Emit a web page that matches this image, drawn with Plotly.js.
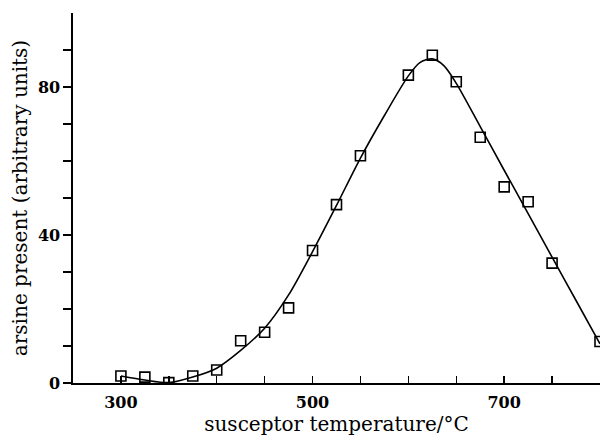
<!DOCTYPE html>
<html>
<head>
<meta charset="utf-8">
<script src="https://cdn.plot.ly/plotly-3.0.1.min.js"></script>
<style>html,body{margin:0;padding:0;background:#fff;}#chart{width:600px;height:439px;}</style>
</head>
<body>
<div id="chart"></div>
<script>
// measured points
const tempPoints = [300, 325, 350, 375, 400, 425, 450, 475, 500, 525, 550, 600, 625, 650, 675, 700, 725, 750, 800];
const arsinePoints = [1.9, 1.6, 0.1, 1.9, 3.5, 11.4, 13.7, 20.3, 35.8, 48.2, 61.4, 83.2, 88.6, 81.4, 66.4, 53.0, 49.0, 32.4, 11.2];

// fitted curve
const tempCurve = [300, 325, 350, 375, 400, 425, 450, 475, 500, 525, 550, 575, 600, 612, 625, 637, 650, 675, 700, 725, 750, 775, 800];
const arsineCurve = [1.9, 0.8, 0.1, 1.6, 4.0, 8.8, 14.8, 23.8, 35.5, 48.0, 60.8, 72.3, 83.0, 86.6, 87.6, 85.8, 81.0, 69.3, 57.5, 45.8, 34.0, 22.3, 10.6];

// ticks
const xTickVals = [300, 350, 400, 450, 500, 550, 600, 650, 700, 750];
const xTickText = ['300', '', '', '', '500', '', '', '', '700', ''];
const yTickVals = [0, 10, 20, 30, 40, 50, 60, 70, 80, 90];
const yTickText = ['0', '', '', '', '40', '', '', '', '80', ''];

const serif = '"DejaVu Serif", "Liberation Serif", serif';

const traces = [
  {
    x: tempCurve, y: arsineCurve, type: 'scatter', mode: 'lines',
    line: {color: '#000', width: 1.6, shape: 'spline', smoothing: 0.8},
    hoverinfo: 'skip', showlegend: false
  },
  {
    x: tempPoints, y: arsinePoints, type: 'scatter', mode: 'markers',
    marker: {symbol: 'square-open', size: 10, color: '#000', line: {color: '#000', width: 1.6}},
    showlegend: false
  }
];

const layout = {
  width: 600, height: 439,
  margin: {l: 73, r: 0, t: 13, b: 56},
  paper_bgcolor: '#fff', plot_bgcolor: '#fff',
  font: {family: serif, color: '#000'},
  xaxis: {
    range: [250, 800],
    showgrid: false, zeroline: false,
    showline: true, linecolor: '#000', linewidth: 1.6,
    ticks: 'inside', ticklen: 7, tickwidth: 1.4, tickcolor: '#000',
    tickmode: 'array', tickvals: xTickVals, ticktext: xTickText,
    tickfont: {family: serif, size: 16, color: '#000', weight: 'bold'},
    ticklabelstandoff: 4,
    title: {text: 'susceptor temperature/°C', font: {family: serif, size: 20, color: '#000'}, standoff: 0}
  },
  yaxis: {
    range: [0, 100],
    showgrid: false, zeroline: false,
    showline: true, linecolor: '#000', linewidth: 1.6,
    ticks: 'outside', ticklen: 8, tickwidth: 1.4, tickcolor: '#000',
    tickmode: 'array', tickvals: yTickVals, ticktext: yTickText,
    tickfont: {family: serif, size: 16, color: '#000', weight: 'bold'},
    title: {text: 'arsine present (arbitrary units)', font: {family: serif, size: 20, color: '#000'}, standoff: 5}
  }
};

Plotly.newPlot('chart', traces, layout, {staticPlot: true, displayModeBar: false});
</script>
</body>
</html>
